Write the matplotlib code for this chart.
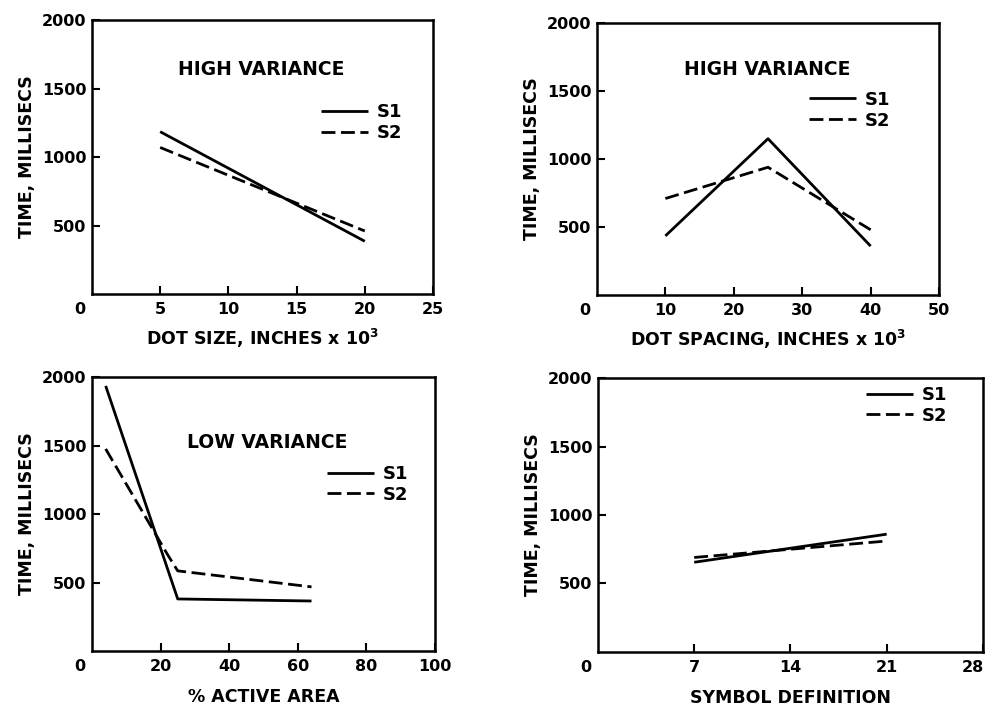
import matplotlib
matplotlib.use("Agg")
import matplotlib.pyplot as plt
import matplotlib.transforms as mtrans

plt.rcParams['font.family'] = ['DejaVu Sans']
plt.rcParams['font.weight'] = 'bold'

# Panel 1: dot size
size_x = [5, 20]
size_s1 = [1185, 385]
size_s2 = [1070, 460]
# Panel 2: dot spacing
spacing_x = [10, 25, 40]
spacing_s1 = [435, 1150, 360]
spacing_s2 = [710, 940, 480]
# Panel 3: % active area
area_x_s1 = [4, 25, 64]
area_s1 = [1935, 380, 365]
area_x_s2 = [4, 22, 25, 64]
area_s2 = [1475, 705, 585, 468]
# Panel 4: symbol definition
symdef_x = [7, 21]
symdef_s1 = [655, 860]
symdef_s2 = [690, 810]

y_ticks = [500, 1000, 1500, 2000]
series_labels = ["S1", "S2"]

fig = plt.figure(figsize=(9.92, 7.08), dpi=100)

panels = [
    dict(rect=[0.0927, 0.5847, 0.3438, 0.387], xlim=25, xticks=[5, 10, 15, 20, 25],
         s1=(size_x, size_s1), s2=(size_x, size_s2),
         xlabel="DOT SIZE, INCHES x 10$^{\\mathbf{3}}$", title="HIGH VARIANCE",
         title_pos=(0.495, 0.82), leg=(0.672, 0.626), lpad=7),
    dict(rect=[0.6018, 0.5833, 0.3448, 0.384], xlim=50, xticks=[10, 20, 30, 40, 50],
         s1=(spacing_x, spacing_s1), s2=(spacing_x, spacing_s2),
         xlabel="DOT SPACING, INCHES x 10$^{\\mathbf{3}}$", title="HIGH VARIANCE",
         title_pos=(0.497, 0.83), leg=(0.62, 0.68), lpad=7),
    dict(rect=[0.0927, 0.0805, 0.3458, 0.387], xlim=100, xticks=[20, 40, 60, 80, 100],
         s1=(area_x_s1, area_s1), s2=(area_x_s2, area_s2),
         xlabel="% ACTIVE AREA", title="LOW VARIANCE",
         title_pos=(0.51, 0.76), leg=(0.685, 0.608), lpad=10),
    dict(rect=[0.6028, 0.0791, 0.388, 0.387], xlim=28, xticks=[7, 14, 21, 28],
         s1=(symdef_x, symdef_s1), s2=(symdef_x, symdef_s2),
         xlabel="SYMBOL DEFINITION", title=None,
         title_pos=None, leg=(0.696, 0.90), lpad=10),
]

for i, p in enumerate(panels):
    ax = fig.add_axes(p['rect'])
    ax.plot(*p['s1'], color='black', lw=2.0, solid_capstyle='butt', label=series_labels[0])
    ax.plot(*p['s2'], color='black', lw=2.0, dashes=(5, 2), label=series_labels[1])
    ax.set_xlim(0, p['xlim'])
    ax.set_ylim(0, 2000)
    ax.set_xticks(p['xticks'])
    ax.set_yticks(y_ticks)
    ax.tick_params(direction='in', length=6, width=1.5, labelsize=11.5)
    ax.tick_params(axis='x', pad=6)
    ax.tick_params(axis='y', pad=4)
    for lab in ax.get_xticklabels() + ax.get_yticklabels():
        lab.set_fontweight('bold')
    if i == 3:
        last = ax.get_xticklabels()[-1]
        last.set_transform(last.get_transform() +
                           mtrans.ScaledTranslation(-7 / 72, 0, fig.dpi_scale_trans))
    for s in ax.spines.values():
        s.set_linewidth(1.8)
    ax.annotate("0", xy=(0, 0), xycoords='axes fraction', xytext=(-9, -6),
                textcoords='offset points', ha='center', va='top',
                fontsize=11.5, fontweight='bold')
    ax.set_ylabel("TIME, MILLISECS", fontsize=12.5, fontweight='bold', labelpad=4)
    ax.set_xlabel(p['xlabel'], fontsize=12.5, fontweight='bold', labelpad=p['lpad'])
    if p['title']:
        ax.text(*p['title_pos'], p['title'], transform=ax.transAxes, ha='center',
                va='center', fontsize=13.5, fontweight='bold')
    ax.legend(loc='center left', bbox_to_anchor=p['leg'], frameon=False,
              handlelength=2.6, handletextpad=0.5, labelspacing=0.15,
              borderpad=0, borderaxespad=0, prop={'weight': 'bold', 'size': 13})

fig.savefig("out.png", dpi=100)
